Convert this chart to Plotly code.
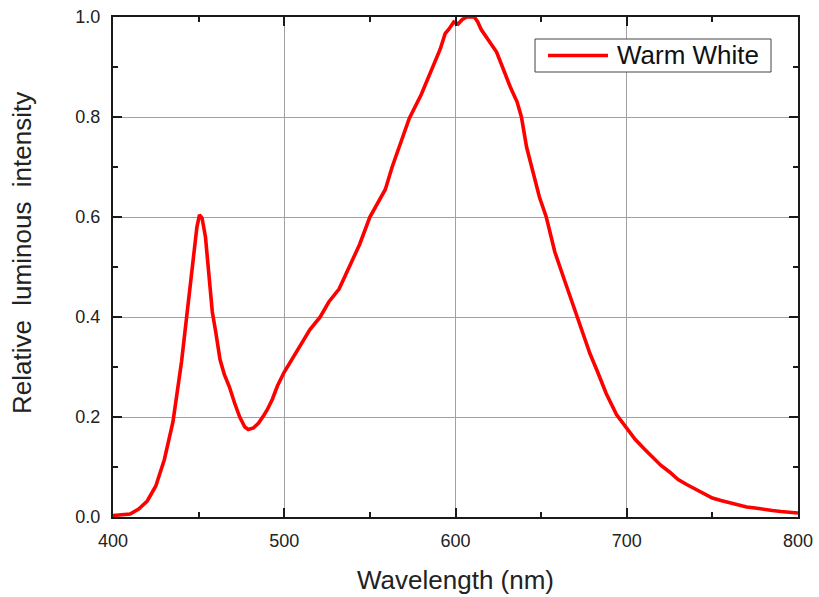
import plotly.graph_objects as go

wavelength = [400, 405, 410, 415, 420, 425, 430, 435, 440, 443, 445, 447, 449, 450.5, 452, 454, 456, 458,
              460, 462.5, 465, 468, 471, 474, 477, 479, 482, 485, 488, 490, 493, 496, 500, 503, 507, 511,
              515, 521, 526, 532, 538, 544, 550, 555, 559, 563, 567, 573, 580, 587, 591, 594, 596, 599,
              601.5, 604, 606.5, 611, 613, 615, 618, 621, 624, 628, 632, 636, 638.5, 641.5, 645, 649, 653,
              658, 663, 667, 671, 675, 678.5, 683, 688, 694, 700, 705, 710, 715, 720, 725, 730, 735, 740,
              745, 750, 755, 760, 765, 770, 775, 780, 785, 790, 795, 800]
intensity = [0.003, 0.004, 0.006, 0.016, 0.032, 0.062, 0.115, 0.19, 0.31, 0.40, 0.46, 0.53, 0.58, 0.604,
             0.598, 0.56, 0.49, 0.41, 0.37, 0.315, 0.285, 0.26, 0.228, 0.20, 0.18, 0.175, 0.178, 0.188,
             0.203, 0.214, 0.235, 0.262, 0.29, 0.307, 0.33, 0.354, 0.375, 0.40, 0.43, 0.456, 0.50, 0.545,
             0.60, 0.63, 0.655, 0.70, 0.737, 0.797, 0.845, 0.90, 0.935, 0.967, 0.975, 0.99, 0.986, 0.995,
             1.0, 1.0, 0.99, 0.975, 0.96, 0.945, 0.93, 0.895, 0.86, 0.83, 0.80, 0.74, 0.69, 0.64, 0.60,
             0.53, 0.48, 0.44, 0.40, 0.36, 0.327, 0.29, 0.247, 0.205, 0.177, 0.155, 0.137, 0.12, 0.103,
             0.09, 0.075, 0.065, 0.056, 0.046, 0.038, 0.033, 0.029, 0.025, 0.02, 0.018, 0.015, 0.013,
             0.011, 0.009, 0.008]

series_name = "Warm White"
x_title = "Wavelength (nm)"
y_title_words = ["Relative", "luminous", "intensity"]
x_ticks = [400, 500, 600, 700, 800]
y_ticks = [0.0, 0.2, 0.4, 0.6, 0.8, 1.0]
y_tick_labels = ["0.0", "0.2", "0.4", "0.6", "0.8", "1.0"]

FONT = "Liberation Sans, Arial, sans-serif"
RED = "rgb(255,0,0)"

fig = go.Figure()
fig.add_trace(go.Scatter(x=wavelength, y=intensity, mode="lines", name=series_name,
                         line=dict(color=RED, width=3.6), showlegend=False))

axis_common = dict(showline=True, linecolor="#1a1a1a", linewidth=2, mirror="allticks",
                   ticks="inside", ticklen=9, tickwidth=1.5, tickcolor="#1a1a1a",
                   showgrid=True, gridcolor="#a0a0a0", gridwidth=1, zeroline=False,
                   automargin=False,
                   tickfont=dict(family=FONT, size=18, color="#222"))

fig.update_xaxes(range=[400, 800], tickvals=x_ticks, ticklabelstandoff=6,
                 minor=dict(dtick=50, ticks="inside", ticklen=5, tickcolor="#1a1a1a", showgrid=False),
                 title=dict(text=x_title, font=dict(family=FONT, size=26, color="#222"), standoff=21),
                 **axis_common)
fig.update_yaxes(range=[0, 1.0], tickvals=y_ticks, ticktext=y_tick_labels, ticklabelstandoff=7,
                 minor=dict(dtick=0.1, ticks="inside", ticklen=5, tickcolor="#1a1a1a", showgrid=False),
                 **axis_common)

# y-axis title as rotated text
gap = "\u00a0" * 2
fig.add_annotation(text=gap.join(y_title_words), xref="paper", yref="paper", x=-0.1328, y=0.528,
                   xanchor="center", yanchor="middle", textangle=-90, showarrow=False,
                   font=dict(family=FONT, size=26, color="#222"))

# Legend box drawn as a framed label in paper coordinates
fig.add_shape(type="rect", xref="paper", yref="paper", x0=0.6161, x1=0.9606, y0=0.89, y1=0.956,
              line=dict(color="#444", width=1), fillcolor="white", layer="above")
fig.add_shape(type="line", xref="paper", yref="paper", x0=0.635, x1=0.7226, y0=0.923, y1=0.923,
              line=dict(color=RED, width=3.6), layer="above")
fig.add_annotation(text=series_name, xref="paper", yref="paper", x=0.733, y=0.923,
                   xanchor="left", yanchor="middle", showarrow=False,
                   font=dict(family=FONT, size=26, color="#111"))

fig.update_layout(width=819, height=597, margin=dict(l=113, r=21, t=17, b=80),
                  paper_bgcolor="white", plot_bgcolor="white", showlegend=False)

fig.write_html("out.html")
